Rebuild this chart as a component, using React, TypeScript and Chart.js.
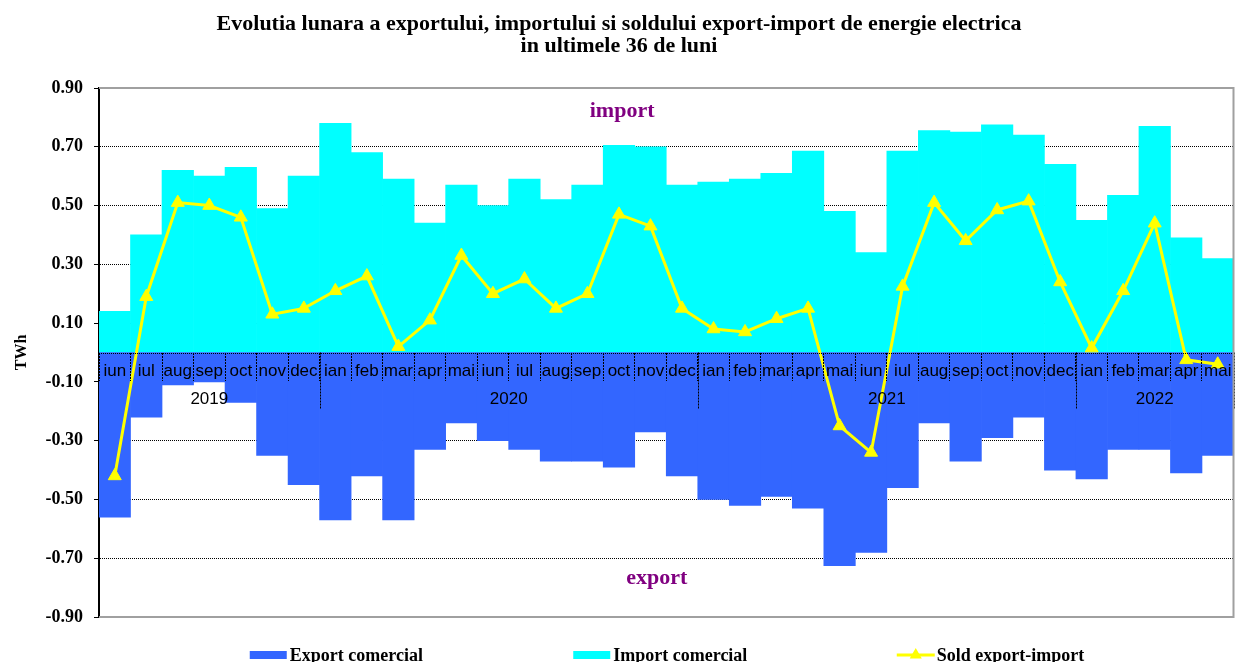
import React, { useEffect, useRef } from 'react';
import { Chart, registerables } from 'chart.js';

Chart.register(...registerables);

const months = [
  'iun', 'iul', 'aug', 'sep', 'oct', 'nov', 'dec',
  'ian', 'feb', 'mar', 'apr', 'mai', 'iun', 'iul', 'aug', 'sep', 'oct', 'nov', 'dec',
  'ian', 'feb', 'mar', 'apr', 'mai', 'iun', 'iul', 'aug', 'sep', 'oct', 'nov', 'dec',
  'ian', 'feb', 'mar', 'apr', 'mai',
];
const yearLabels = ['2019', '2020', '2021', '2022'];
const yearMonthCounts = [7, 12, 12, 5];

const exportValues = [
  -0.56, -0.22, -0.11, -0.10, -0.17, -0.35, -0.45,
  -0.57, -0.42, -0.57, -0.33, -0.24, -0.30, -0.33, -0.37, -0.37, -0.39, -0.27, -0.42,
  -0.50, -0.52, -0.49, -0.53, -0.725, -0.68, -0.46, -0.24, -0.37, -0.29, -0.22, -0.40,
  -0.43, -0.33, -0.33, -0.41, -0.35,
];
const importValues = [
  0.14, 0.40, 0.62, 0.60, 0.63, 0.49, 0.60,
  0.78, 0.68, 0.59, 0.44, 0.57, 0.50, 0.59, 0.52, 0.57, 0.705, 0.70, 0.57,
  0.58, 0.59, 0.61, 0.685, 0.48, 0.34, 0.685, 0.755, 0.75, 0.775, 0.74, 0.64,
  0.45, 0.535, 0.77, 0.39, 0.32,
];
const soldValues = [
  -0.42, 0.19, 0.51, 0.50, 0.46, 0.13, 0.15,
  0.21, 0.26, 0.02, 0.11, 0.33, 0.20, 0.25, 0.15, 0.20, 0.47, 0.43, 0.15,
  0.08, 0.07, 0.115, 0.15, -0.25, -0.34, 0.225, 0.51, 0.38, 0.485, 0.515, 0.24,
  0.015, 0.21, 0.44, -0.025, -0.04,
];
const yTicks = [-0.9, -0.7, -0.5, -0.3, -0.1, 0.1, 0.3, 0.5, 0.7, 0.9];

const titleLines = [
  'Evolutia lunara a exportului, importului si soldului export-import de energie electrica',
  'in ultimele 36 de luni',
];
const seriesLabels = ['Export comercial', 'Import comercial', 'Sold export-import'];
const annotationTexts = ['import', 'export'];
const annotationIndex = [16.1, 17.2];
const annotationValues = [0.82, -0.77];

const SERIF = "'Liberation Serif', 'Times New Roman', serif";
const SANS = "'Liberation Sans', Arial, sans-serif";

const overlayPlugin = {
  id: 'overlay',
  afterDatasetsDraw(chart: any) {
    const { ctx, chartArea } = chart;
    const y0 = chart.scales.y.getPixelForValue(0);
    ctx.save();
    ctx.strokeStyle = '#000';
    ctx.lineWidth = 1;
    ctx.setLineDash([1, 1]);
    ctx.beginPath();
    ctx.moveTo(chartArea.left, Math.round(y0) + 0.5);
    ctx.lineTo(chartArea.right, Math.round(y0) + 0.5);
    ctx.stroke();
    ctx.restore();
  },
  afterDraw(chart: any) {
    const { ctx, chartArea } = chart;
    const xs = chart.scales.x;
    const ys = chart.scales.y;
    const y0 = ys.getPixelForValue(0);
    ctx.save();

    // year group separators and labels
    ctx.strokeStyle = '#000';
    ctx.lineWidth = 1;
    ctx.setLineDash([2, 1]);
    let start = 0;
    yearMonthCounts.forEach((count, i) => {
      const end = start + count - 1;
      const bx = end + 0.5;
      const px = Math.round(xs.getPixelForValue(bx)) + 0.5;
      ctx.beginPath();
      ctx.moveTo(px, y0);
      ctx.lineTo(px, y0 + 56);
      ctx.stroke();
      const cx = xs.getPixelForValue((start + end) / 2);
      ctx.fillStyle = '#000';
      ctx.font = `17px ${SANS}`;
      ctx.textAlign = 'center';
      ctx.textBaseline = 'middle';
      ctx.fillText(yearLabels[i], cx, y0 + 47);
      start += count;
    });
    ctx.setLineDash([]);

    // annotations
    ctx.fillStyle = '#800080';
    ctx.font = `bold 22px ${SERIF}`;
    ctx.textAlign = 'center';
    ctx.textBaseline = 'middle';
    annotationTexts.forEach((t, i) => {
      ctx.fillText(t, xs.getPixelForValue(annotationIndex[i]), ys.getPixelForValue(annotationValues[i]));
    });

    // frame
    ctx.strokeStyle = '#a0a0a0';
    ctx.lineWidth = 2;
    ctx.beginPath();
    ctx.moveTo(chartArea.left, chartArea.top);
    ctx.lineTo(chartArea.right, chartArea.top);
    ctx.lineTo(chartArea.right, chartArea.bottom);
    ctx.lineTo(chartArea.left, chartArea.bottom);
    ctx.stroke();

    // legend
    const cy = chartArea.bottom + 38;
    const startX = (chartArea.left + chartArea.right) / 2 - 416.5;
    ctx.font = `bold 18px ${SERIF}`;
    ctx.textAlign = 'left';
    ctx.textBaseline = 'middle';
    chart.data.datasets.forEach((ds: any, i: number) => {
      const x = startX + i * 323.5;
      if (ds.type === 'line') {
        ctx.strokeStyle = ds.borderColor;
        ctx.lineWidth = 3;
        ctx.beginPath();
        ctx.moveTo(x, cy);
        ctx.lineTo(x + 38, cy);
        ctx.stroke();
        const r = 7;
        const tx = x + 19;
        ctx.fillStyle = ds.borderColor;
        ctx.beginPath();
        ctx.moveTo(tx, cy - r);
        ctx.lineTo(tx + r * 0.866, cy + r / 2);
        ctx.lineTo(tx - r * 0.866, cy + r / 2);
        ctx.closePath();
        ctx.fill();
      } else {
        ctx.fillStyle = ds.backgroundColor;
        ctx.fillRect(x, cy - 4, 37, 8);
      }
      ctx.fillStyle = '#000';
      ctx.fillText(ds.label, x + 40, cy + 1);
    });
    ctx.restore();
  },
};

export default function App() {
  const canvasRef = useRef<HTMLCanvasElement | null>(null);

  useEffect(() => {
    if (!canvasRef.current) return;
    const chart = new Chart(canvasRef.current, {
      type: 'bar',
      data: {
        labels: months,
        datasets: [
          {
            type: 'bar',
            label: seriesLabels[0],
            data: exportValues,
            backgroundColor: '#3366FF',
            borderWidth: 0,
            barPercentage: 1,
            categoryPercentage: 1,
            order: 2,
          },
          {
            type: 'bar',
            label: seriesLabels[1],
            data: importValues,
            backgroundColor: '#00FFFF',
            borderWidth: 0,
            barPercentage: 1,
            categoryPercentage: 1,
            order: 2,
          },
          {
            type: 'line',
            label: seriesLabels[2],
            data: soldValues,
            borderColor: '#FFFF00',
            backgroundColor: '#FFFF00',
            borderWidth: 3,
            pointStyle: 'triangle',
            pointRadius: 7.5,
            pointBackgroundColor: '#FFFF00',
            pointBorderColor: '#FFFF00',
            pointBorderWidth: 1,
            tension: 0,
            order: 0,
          } as any,
        ],
      },
      options: {
        animation: false,
        responsive: true,
        maintainAspectRatio: false,
        layout: { padding: { top: 0, left: 0, right: 4, bottom: 45 } },
        plugins: {
          legend: { display: false },
          tooltip: { enabled: false },
          title: {
            display: true,
            text: titleLines,
            color: '#000',
            font: { family: SERIF, size: 22, weight: 'bold', lineHeight: 1.0 },
            padding: { top: 13, bottom: 31 },
          },
        },
        scales: {
          x: {
            type: 'category',
            stacked: true,
            offset: true,
            position: { y: 0 } as any,
            grid: {
              z: 1,
              offset: true,
              drawOnChartArea: false,
              drawTicks: true,
              tickLength: 28,
              tickColor: '#000',
              tickWidth: 1,
              tickBorderDash: [2, 1],
            },
            border: { display: false },
            ticks: {
              z: 1,
              autoSkip: false,
              maxRotation: 0,
              minRotation: 0,
              padding: -19,
              color: '#000',
              font: { family: SANS, size: 17 },
            },
          } as any,
          y: {
            type: 'linear',
            min: -0.9,
            max: 0.9,
            afterBuildTicks: (scale: any) => {
              scale.ticks = yTicks.map((v) => ({ value: v }));
            },
            afterFit: (scale: any) => {
              scale.width = 99;
            },
            grid: {
              color: (c: any) => (c.tick && Math.abs(c.tick.value) > 0.89 ? 'rgba(0,0,0,0)' : '#000'),
              lineWidth: 1,
              tickColor: '#000',
              tickLength: 5,
              tickBorderDash: [],
            },
            border: { display: true, color: '#000', width: 2, dash: [1, 1] },
            ticks: {
              color: '#000',
              padding: 11,
              font: { family: SERIF, size: 18, weight: 'bold' },
              callback: (v: any) => Number(v).toFixed(2),
            },
            title: {
              display: true,
              text: 'TWh',
              color: '#000',
              font: { family: SERIF, size: 16, weight: 'bold' },
              padding: { top: 12, bottom: 0 },
            },
          },
        },
      },
      plugins: [overlayPlugin],
    });
    return () => chart.destroy();
  }, []);

  return (
    <div style={{ position: 'fixed', left: 0, top: 0, width: 1242, height: 662, background: '#fff' }}>
      <canvas ref={canvasRef} />
    </div>
  );
}
